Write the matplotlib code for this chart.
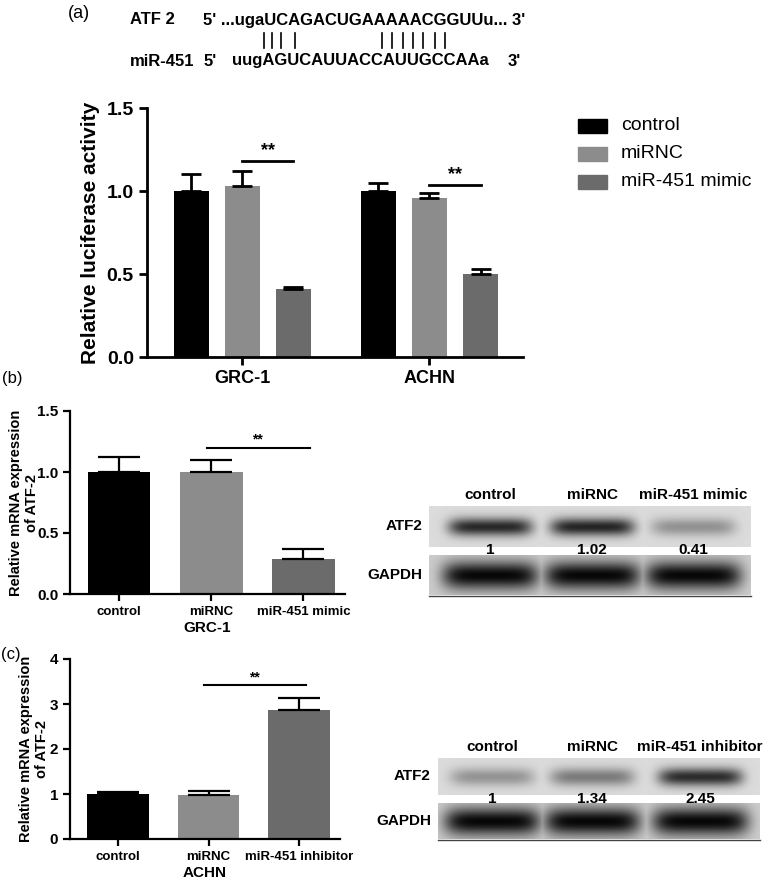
import numpy as np
import matplotlib.pyplot as plt
from matplotlib.patches import Rectangle

plt.rcParams['font.family'] = ['Liberation Sans', 'DejaVu Sans']

W, H = 777, 885

# panel (a) luciferase
groups_a = ["GRC-1", "ACHN"]
series_a = ["control", "miRNC", "miR-451 mimic"]
luc_mean = [[1.00, 1.00], [1.03, 0.96], [0.41, 0.50]]
luc_err = [[0.10, 0.05], [0.09, 0.03], [0.01, 0.03]]
luc_sig = [1.18, 1.035]

# panel (b) GRC-1 mRNA
cats_b = ["control", "miRNC", "miR-451 mimic"]
mrna_b = [1.00, 1.00, 0.29]
err_b = [0.12, 0.10, 0.08]
sig_b = 1.20

# panel (c) ACHN mRNA
cats_c = ["control", "miRNC", "miR-451 inhibitor"]
mrna_c = [1.00, 0.97, 2.86]
err_c = [0.04, 0.09, 0.27]
sig_c = 3.42

# western blot band quantification
blot_b_atf2 = [1, 1.02, 0.41]
blot_c_atf2 = [1, 1.34, 2.45]

colors = ["#000000", "#8c8c8c", "#6b6b6b"]

fig = plt.figure(figsize=(W / 100, H / 100), dpi=100)


def rect(x0, y0, x1, y1):
    return [x0 / W, 1 - y1 / H, (x1 - x0) / W, (y1 - y0) / H]


def fx(x):
    return x / W


def fy(y):
    return 1 - y / H


def style(ax, lw=2):
    for s in ["top", "right"]:
        ax.spines[s].set_visible(False)
    for s in ["left", "bottom"]:
        ax.spines[s].set_linewidth(lw)
    ax.tick_params(width=lw, length=6, direction="out")


# ---- (a) sequence
fig.text(fx(68), fy(14), "(a)", fontsize=13, va="center")
fig.text(fx(130), fy(20), "ATF 2", fontsize=12, weight="bold", va="center")
fig.text(fx(203), fy(20), "5' ...ugaUCAGACUGAAAAACGGUUu... 3'", fontsize=12, weight="bold", va="center")
fig.text(fx(130), fy(61), "miR-451", fontsize=12, weight="bold", va="center")
fig.text(fx(204), fy(61), "5'", fontsize=12, weight="bold", va="center")
fig.text(fx(232), fy(61), "uugAGUCAUUACCAUUGCCAAa", fontsize=12, weight="bold", va="center")
fig.text(fx(508), fy(61), "3'", fontsize=12, weight="bold", va="center")
for px in [264, 272, 281, 295, 382, 392, 403, 413, 423, 435, 445]:
    fig.add_artist(plt.Line2D([fx(px), fx(px)], [fy(33), fy(48)], color="black", lw=1.2))

# ---- (a) bar chart
axa = fig.add_axes(rect(147, 108, 523, 357))
style(axa)
bw = 0.187
off = 0.273
xg = np.arange(len(groups_a))
for i, name in enumerate(series_a):
    axa.bar(xg + (i - 1) * off, luc_mean[i], bw, color=colors[i], label=name,
            yerr=[np.zeros(2), luc_err[i]], capsize=7.5,
            error_kw=dict(lw=2, capthick=2, ecolor="black"))
for g in range(2):
    axa.plot([g, g + off], [luc_sig[g]] * 2, color="black", lw=2)
    axa.text(g + off / 2, luc_sig[g] + 0.01, "**", ha="center", va="bottom", fontsize=13, weight="bold")
axa.set_xlim(-0.51, 1.5)
axa.set_ylim(0, 1.5)
axa.set_yticks([0, 0.5, 1.0, 1.5])
axa.set_yticklabels(["0.0", "0.5", "1.0", "1.5"])
axa.set_xticks(xg)
axa.set_xticklabels(groups_a)
for lab in axa.get_yticklabels():
    lab.set_fontsize(14)
    lab.set_fontweight("bold")
for lab in axa.get_xticklabels():
    lab.set_fontsize(13)
    lab.set_fontweight("bold")
axa.set_ylabel("Relative luciferase activity", fontsize=15, weight="bold", labelpad=5)

# legend drawn in figure coordinates
for i, name in enumerate(series_a):
    yc = [126, 154, 182][i]
    fig.add_artist(Rectangle((fx(578), fy(yc + 7)), fx(607) - fx(578), fy(yc - 7) - fy(yc + 7),
                             color=colors[i], transform=fig.transFigure))
    fig.text(fx(621), fy(yc), name, fontsize=14, va="center")


def mrna_panel(box, cats, vals, errs, sig, ymax, yticks, yticklabels, xlab, label_x):
    ax = fig.add_axes(rect(*box))
    style(ax, 1.6)
    x = np.arange(len(cats))
    ax.bar(x, vals, 0.68, color=colors, yerr=[np.zeros(3), errs], capsize=15,
           error_kw=dict(lw=1.6, capthick=1.6, ecolor="black"))
    ax.plot([0.95, 2.07], [sig, sig], color="black", lw=1.5)
    ax.text(1.5, sig + ymax * 0.005, "**", ha="center", va="bottom", fontsize=10, weight="bold")
    ax.set_xlim(-0.53, 2.45)
    ax.set_ylim(0, ymax)
    ax.set_yticks(yticks)
    ax.set_yticklabels(yticklabels)
    ax.set_xticks(x)
    ax.set_xticklabels(cats)
    ax.tick_params(length=5)
    for lab in ax.get_yticklabels():
        lab.set_fontsize(11)
        lab.set_fontweight("bold")
    for lab in ax.get_xticklabels():
        lab.set_fontsize(9.5)
        lab.set_fontweight("bold")
    ax.set_ylabel("Relative mRNA expression\nof ATF-2", fontsize=10.5, weight="bold")
    # the label anchor is its edge facing the axis
    ax.yaxis.set_label_coords((label_x - box[0]) / (box[2] - box[0]), 0.5)
    ax.set_xlabel(xlab, fontsize=11, weight="bold", labelpad=2)
    return ax


fig.text(fx(2), fy(379), "(b)", fontsize=12, va="center")
mrna_panel((70, 411, 345, 594), cats_b, mrna_b, err_b, sig_b, 1.5,
           [0, 0.5, 1.0, 1.5], ["0.0", "0.5", "1.0", "1.5"], "GRC-1", 39)
fig.text(fx(1), fy(655), "(c)", fontsize=12, va="center")
mrna_panel((70, 659, 340, 839), cats_c, mrna_c, err_c, sig_c, 4,
           [0, 1, 2, 3, 4], ["0", "1", "2", "3", "4"], "ACHN", 49)


# ---- western blots
def band_strip(box, centers, intens, bg, peak, halfw, halfh):
    x0, y0, x1, y1 = box
    ax = fig.add_axes(rect(x0, y0, x1, y1))
    ax.set_axis_off()
    xs = np.arange(x0, x1)
    ys = np.arange(y0, y1)
    X, Y = np.meshgrid(xs, ys)
    dark = np.zeros_like(X, dtype=float)
    for c, s in zip(centers, intens):
        prof = np.exp(-(((X - c) / halfw) ** 6)) * np.exp(-(((Y - (y0 + y1) / 2) / halfh) ** 2))
        dark = np.maximum(dark, prof * s)
    img = bg - (bg - peak) * np.clip(dark, 0, 1)
    ax.imshow(img, cmap="gray", vmin=0, vmax=1, aspect="auto", interpolation="bilinear")
    return ax


def blot(lane_labels, centers, atf_box, gapdh_box, atf_vals, atf_scale, row_x, col_y, num_y, under_y):
    for lab, c in zip(lane_labels, centers):
        fig.text(fx(c), fy(col_y), lab, fontsize=11, weight="bold", ha="center", va="center")
    band_strip(atf_box, centers, [v * atf_scale for v in atf_vals], 0.86, 0.08, 42, 9)
    band_strip(gapdh_box, centers, [1, 1, 1], 0.80, 0.03, 48, 14)
    for v, c in zip(atf_vals, centers):
        fig.text(fx(c), fy(num_y), str(v), fontsize=11, weight="bold", ha="center", va="center")
    fig.text(fx(row_x), fy((atf_box[1] + atf_box[3]) / 2), "ATF2", fontsize=11, weight="bold",
             ha="right", va="center")
    fig.text(fx(row_x), fy((gapdh_box[1] + gapdh_box[3]) / 2), "GAPDH", fontsize=11, weight="bold",
             ha="right", va="center")
    fig.add_artist(plt.Line2D([fx(atf_box[0]), fx(atf_box[2])], [fy(under_y)] * 2, color="#444444", lw=1))


blot(cats_b, [490, 592, 693], (429, 506, 751, 547), (429, 555, 751, 595),
     blot_b_atf2, 0.9, 422, 495, 550, 596)
blot(cats_c, [492, 592, 700], (438, 758, 760, 795), (438, 803, 760, 839),
     blot_c_atf2, 0.36, 431, 747, 799, 840)

fig.savefig("out.png", dpi=100)
